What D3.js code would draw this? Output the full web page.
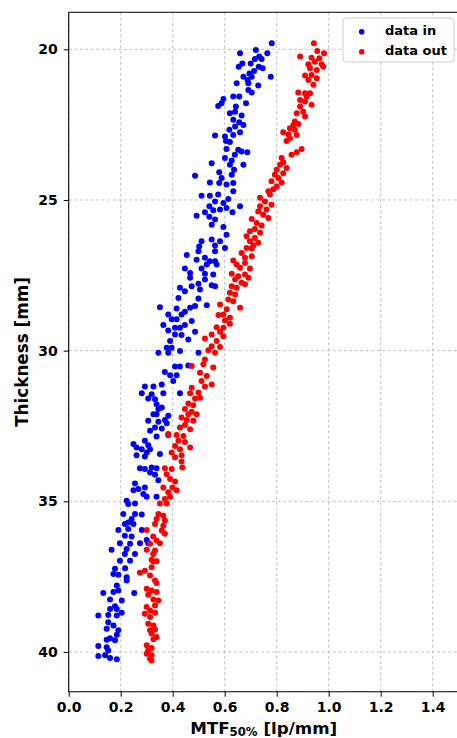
<!DOCTYPE html>
<html><head><meta charset="utf-8">
<script src="https://cdn.jsdelivr.net/npm/d3@7"></script>
<style>
html,body{margin:0;padding:0;background:#fff;}
text{font-family:"DejaVu Sans",sans-serif;font-weight:bold;}
</style></head>
<body>
<svg id="chart" width="457" height="738"></svg>
<script>
// "data in" series: MTF50% [lp/mm] and thickness [mm]
const mtfIn = [
0.781,0.720,0.659,0.764,0.733,0.716,0.742,0.668,0.700,0.654,0.731,0.746,0.713,0.695,0.672,0.777,0.704,0.688,0.646,0.691,0.729,0.691,0.704,0.633,0.656,0.595,0.588,0.575,0.643,0.682,0.640,0.620,0.665,0.633,0.656,0.672,0.640,0.618,0.659,0.563,0.601,0.633,0.605,0.620,
0.607,0.652,0.665,0.687,0.639,0.601,0.627,0.550,0.620,0.672,0.636,0.579,0.486,0.627,0.588,0.633,0.543,0.579,0.607,0.633,0.511,0.543,0.575,0.614,0.563,0.595,0.659,0.541,0.582,0.607,0.630,0.524,0.556,0.492,0.541,0.563,0.550,0.595,0.607,0.511,0.550,0.582,0.502,0.563,0.601,
0.499,0.563,0.454,0.492,0.524,0.543,0.563,0.531,0.569,0.447,0.511,0.467,0.524,0.556,0.467,0.524,0.499,0.550,0.563,0.428,0.473,0.447,0.505,0.422,0.499,0.531,0.351,0.486,0.415,0.467,0.447,0.383,0.434,0.396,0.415,0.473,0.364,0.447,0.409,0.428,0.383,0.486,0.409,0.434,0.460,0.390,0.377,0.396,0.428,0.345,0.383,0.499,
0.409,0.428,0.460,0.370,0.390,0.415,0.402,0.293,0.326,0.358,0.281,0.319,0.364,0.428,0.306,0.332,0.338,0.358,0.345,0.326,0.338,0.383,0.370,0.306,0.345,0.377,0.332,0.358,0.313,0.383,0.338,0.293,0.249,0.306,0.261,0.281,0.313,0.300,0.351,0.261,0.293,
0.274,0.293,0.319,0.338,0.313,0.332,0.345,0.255,0.293,0.249,0.268,0.287,0.300,0.338,0.223,0.229,0.255,0.210,0.255,0.281,0.242,0.229,0.216,0.249,0.191,0.229,0.281,0.216,0.242,0.300,0.197,0.236,0.274,0.306,0.165,0.223,0.216,0.255,0.197,0.236,
0.178,0.217,0.172,0.191,0.223,0.223,0.185,0.133,0.172,0.191,0.252,0.159,0.204,0.178,0.159,0.185,0.204,0.114,0.152,0.185,0.152,0.172,0.146,0.191,0.185,0.159,0.146,0.178,0.114,0.146,0.152,0.114,0.140,0.159,0.185
];
const thickIn = [
19.80,20.02,20.13,20.13,20.24,20.32,20.32,20.47,20.47,20.58,20.58,20.63,20.72,20.80,20.91,20.91,20.91,21.02,21.13,21.13,21.20,21.35,21.43,21.57,21.57,21.65,21.79,21.88,21.90,21.79,22.07,22.12,22.20,22.34,22.42,22.51,22.56,22.67,22.75,22.86,22.89,22.84,23.04,23.08,
23.31,23.33,23.39,23.42,23.50,23.61,23.69,23.78,23.83,23.83,24.00,24.08,24.20,24.16,24.27,24.44,24.42,24.44,24.49,24.71,24.86,24.86,24.82,24.97,25.05,25.10,25.21,25.21,25.32,25.27,25.41,25.41,25.34,25.52,25.56,25.65,25.82,25.90,26.15,26.37,26.31,26.37,26.54,26.51,26.59,
26.70,26.70,26.83,26.98,26.92,27.03,27.03,27.14,27.14,27.27,27.27,27.42,27.45,27.47,27.58,27.64,27.78,27.83,27.86,27.91,27.86,28.03,27.97,28.25,28.27,28.49,28.56,28.52,28.60,28.58,28.71,28.80,28.80,28.96,28.96,29.02,29.15,29.15,29.24,29.24,29.33,29.37,29.46,29.48,29.63,29.68,29.90,29.90,30.01,30.07,30.07,30.07,
30.53,30.53,30.49,30.71,30.82,30.82,31.01,31.19,31.19,31.12,31.41,31.45,31.41,31.41,31.59,31.61,31.78,31.89,31.94,32.11,32.11,32.16,32.30,32.33,32.36,32.41,32.55,32.58,32.66,32.80,32.85,32.99,33.10,33.14,33.21,33.27,33.27,33.38,33.43,33.47,33.51,
33.90,33.93,33.88,33.90,34.04,34.12,34.30,34.41,34.54,34.63,34.59,34.76,34.85,34.85,34.98,35.09,35.07,35.42,35.42,35.44,35.59,35.70,35.75,35.75,35.95,35.92,35.95,36.14,36.17,36.28,36.39,36.41,36.39,36.39,36.61,36.58,36.75,36.75,36.97,36.97,
37.24,37.22,37.41,37.44,37.52,37.63,37.79,38.04,38.01,37.96,38.04,38.26,38.29,38.48,38.57,38.57,38.70,38.79,38.77,38.79,39.01,39.12,39.23,39.28,39.43,39.54,39.59,39.61,39.80,39.84,39.95,40.13,40.11,40.20,40.24
];
// "data out" series
const mtfOut = [
0.943,0.956,0.982,0.890,0.934,0.964,0.947,0.922,0.973,0.979,0.928,0.954,0.909,0.934,0.922,0.954,0.941,0.883,0.909,0.928,0.915,0.890,0.909,0.934,0.890,0.902,0.877,0.909,0.870,0.883,0.864,0.851,0.870,0.825,0.845,0.877,0.851,0.838,
0.896,0.877,0.857,0.819,0.825,0.813,0.838,0.800,0.825,0.793,0.806,0.780,0.819,0.800,0.768,0.787,0.774,0.736,0.755,0.780,0.736,0.761,0.729,0.748,0.704,0.768,0.723,0.742,0.716,0.697,0.736,0.684,0.716,0.697,0.729,0.710,0.684,
0.704,0.665,0.633,0.678,0.704,0.646,0.678,0.659,0.697,0.627,0.652,0.678,0.640,0.691,0.665,0.627,0.646,0.678,0.620,0.640,0.614,0.633,0.582,0.659,0.608,0.595,0.576,0.620,0.601,0.620,0.569,0.595,0.582,0.550,0.595,0.524,0.569,0.550,0.582,0.537,0.563,
0.524,0.473,0.518,0.556,0.505,0.531,0.511,0.550,0.524,0.473,0.499,0.467,0.486,0.505,0.460,0.479,0.447,0.473,0.460,0.492,0.434,0.454,0.479,0.428,0.447,0.467,0.383,0.415,0.441,0.422,0.447,0.409,0.467,0.428,0.396,0.434,0.409,
0.434,0.437,0.370,0.396,0.377,0.390,0.409,0.364,0.399,0.415,0.383,0.390,0.370,0.351,0.377,0.345,0.364,0.338,0.370,0.332,0.364,0.358,0.300,0.370,0.325,0.338,0.313,0.351,0.300,0.332,0.325,0.319,0.338,
0.326,0.319,0.293,0.274,0.313,0.332,0.338,0.300,0.319,0.338,0.306,0.326,0.345,0.332,0.300,0.313,0.332,0.293,0.313,0.306,0.326,0.332,0.313,0.319,0.338,0.326,0.300,0.319,0.306,0.300,0.319,0.313,0.319
];
const thickOut = [
19.80,20.06,20.13,20.24,20.28,20.30,20.41,20.50,20.50,20.58,20.63,20.69,20.87,20.85,21.02,20.96,21.18,21.43,21.46,21.46,21.57,21.68,21.73,21.84,21.90,22.07,22.12,22.23,22.40,22.48,22.51,22.62,22.67,22.75,22.82,22.84,22.95,23.04,
23.31,23.42,23.50,23.61,23.75,23.83,23.94,24.00,24.11,24.16,24.27,24.38,24.42,24.55,24.71,24.64,24.82,24.93,25.05,25.16,25.21,25.32,25.38,25.49,25.63,25.60,25.76,25.85,25.96,26.04,26.09,26.20,26.26,26.37,26.42,26.51,26.59,
26.61,26.76,27.01,26.92,26.87,27.14,27.09,27.25,27.27,27.45,27.53,27.47,27.64,27.58,27.75,27.86,27.91,27.80,28.08,28.14,28.30,28.36,28.47,28.58,28.63,28.80,28.82,28.91,29.00,29.11,29.22,29.24,29.37,29.46,29.52,29.60,29.68,29.85,29.88,29.99,30.07,
30.29,30.51,30.45,30.56,30.73,30.84,31.01,31.12,31.19,31.23,31.39,31.41,31.59,31.56,31.75,31.81,31.94,32.03,32.11,32.11,32.22,32.30,32.33,32.55,32.47,32.61,32.77,32.80,32.83,32.99,33.03,33.16,33.21,33.27,33.38,33.47,33.54,
33.68,33.88,33.90,33.93,34.10,34.26,34.34,34.54,34.54,34.63,34.70,34.85,34.92,35.07,35.07,35.42,35.48,35.59,35.64,35.75,35.81,35.97,35.95,36.08,36.17,36.30,36.41,36.39,36.61,36.63,36.75,36.94,36.99,
37.00,37.19,37.30,37.37,37.46,37.63,37.71,37.90,37.96,38.01,38.10,38.26,38.29,38.46,38.51,38.62,38.70,38.73,38.84,39.06,39.12,39.25,39.28,39.39,39.50,39.58,39.78,39.87,39.95,40.06,40.11,40.22,40.28
];
const xTicks = [0.0,0.2,0.4,0.6,0.8,1.0,1.2,1.4];
const yTicks = [20,25,30,35,40];
const seriesNames = ["data in","data out"];
const seriesColors = ["#0000ff","#ff0000"];

const svg = d3.select("#chart");
svg.append("rect").attr("width",457).attr("height",738).attr("fill","#fff");

const L=68.7, R=458.7, T=12.3, B=691.7;
const x = d3.scaleLinear().domain([0,1.5]).range([L,R]);
const y = d3.scaleLinear().domain([20,40]).range([49.3,652]);

// grid
const grid = svg.append("g").attr("stroke","#b0b0b0").attr("stroke-width",0.8).attr("stroke-dasharray","3,2.5");
xTicks.forEach(t=>grid.append("line").attr("x1",x(t)).attr("x2",x(t)).attr("y1",T).attr("y2",B));
yTicks.forEach(t=>grid.append("line").attr("x1",L).attr("x2",R).attr("y1",y(t)).attr("y2",y(t)));

// points
const series = [
  {name:seriesNames[0], color:seriesColors[0], xs:mtfIn, ys:thickIn},
  {name:seriesNames[1], color:seriesColors[1], xs:mtfOut, ys:thickOut}
];
series.forEach(s=>{
  const pts = d3.range(Math.min(s.xs.length,s.ys.length)).map(i=>[s.xs[i],s.ys[i]]);
  svg.append("g").selectAll("circle").data(pts).join("circle")
    .attr("cx",d=>x(d[0])).attr("cy",d=>y(d[1])).attr("r",3).attr("fill",s.color);
});

// axes
const xAxis = d3.axisBottom(x).tickValues(xTicks).tickFormat(d3.format(".1f")).tickSizeOuter(0).tickSize(5).tickPadding(5);
const gx = svg.append("g").attr("transform",`translate(0,${B})`).call(xAxis);
gx.select(".domain").remove();
gx.selectAll("text").attr("font-size",14).attr("font-family","DejaVu Sans").attr("font-weight","bold").attr("fill","#000");
gx.selectAll("line").attr("stroke","#000").attr("stroke-width",1);

const yAxis = d3.axisLeft(y).tickValues(yTicks).tickFormat(d3.format("d")).tickSizeOuter(0).tickSize(5).tickPadding(6);
const gy = svg.append("g").attr("transform",`translate(${L},0)`).call(yAxis);
gy.select(".domain").remove();
gy.selectAll("text").attr("font-size",14).attr("font-family","DejaVu Sans").attr("font-weight","bold").attr("fill","#000");
gy.selectAll("line").attr("stroke","#000").attr("stroke-width",1);

// spines
const sp = svg.append("g").attr("stroke","#000").attr("stroke-width",1.1).attr("fill","none");
sp.append("line").attr("x1",L).attr("x2",L).attr("y1",T).attr("y2",B);
sp.append("line").attr("x1",L).attr("x2",R).attr("y1",B).attr("y2",B);
sp.append("line").attr("x1",L).attr("x2",R).attr("y1",T).attr("y2",T);
sp.append("line").attr("x1",R).attr("x2",R).attr("y1",T).attr("y2",B);

// axis labels
const xl = svg.append("text").attr("x",(L+R)/2).attr("y",733.5).attr("text-anchor","middle").attr("font-size",16.7);
xl.append("tspan").text("MTF");
xl.append("tspan").attr("font-size",11.7).attr("dy",2.3).text("50%");
xl.append("tspan").attr("dy",-2.3).text(" [lp/mm]");

svg.append("text").attr("transform",`translate(28,${(T+B)/2}) rotate(-90)`).attr("text-anchor","middle").attr("font-size",16.8).text("Thickness [mm]");

// legend
const lg = svg.append("g");
lg.append("rect").attr("x",343).attr("y",18).attr("width",111).attr("height",44).attr("rx",3)
  .attr("fill","#fff").attr("fill-opacity",0.8).attr("stroke","#cccccc").attr("stroke-width",1);
series.forEach((s,i)=>{
  lg.append("circle").attr("cx",361.7).attr("cy",31.7+i*20).attr("r",2.8).attr("fill",s.color);
  lg.append("text").attr("x",385).attr("y",34.5+i*20).attr("font-size",13).text(s.name);
});
</script>
</body></html>
